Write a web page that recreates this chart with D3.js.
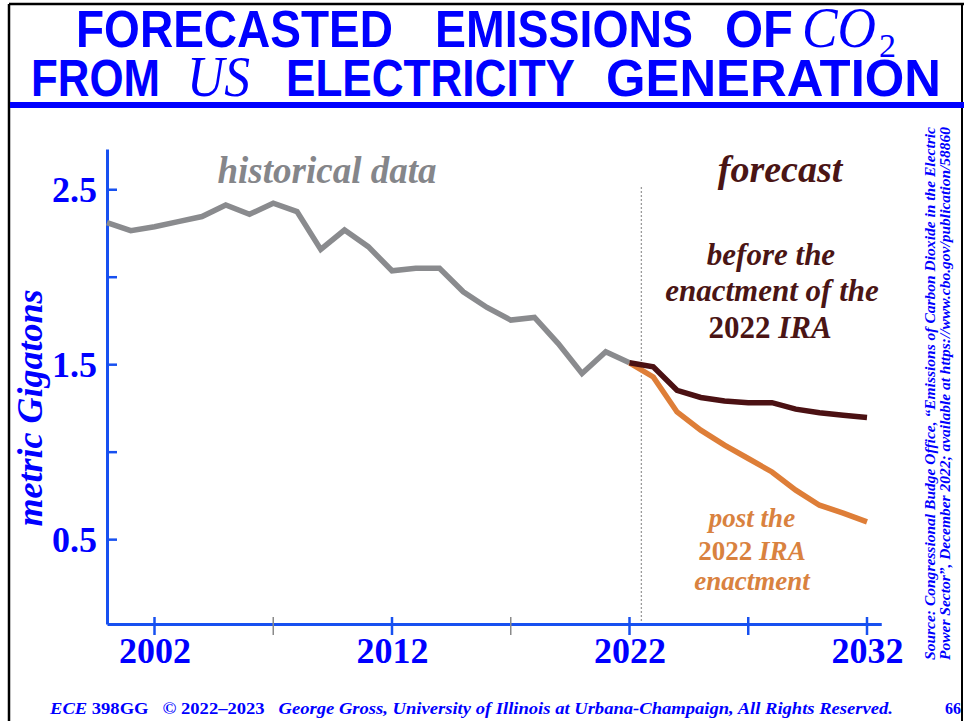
<!DOCTYPE html>
<html>
<head>
<meta charset="utf-8">
<script src="https://cdn.jsdelivr.net/npm/d3@7/dist/d3.min.js"></script>
<style>
  html, body { margin: 0; padding: 0; background: #fff; }
  svg { display: block; }
</style>
</head>
<body>
<svg id="chart" width="964" height="721"></svg>
<script>
// Historical emissions (metric gigatons CO2), 2000–2022
const histYears = [2000, 2001, 2002, 2003, 2004, 2005, 2006, 2007, 2008, 2009, 2010, 2011,
                   2012, 2013, 2014, 2015, 2016, 2017, 2018, 2019, 2020, 2021, 2022];
const histValues = [2.309, 2.263, 2.286, 2.315, 2.344, 2.410, 2.357, 2.420, 2.372, 2.156, 2.267, 2.172,
                    2.034, 2.048, 2.048, 1.914, 1.824, 1.752, 1.767, 1.618, 1.447, 1.571, 1.508];

// Forecasts, 2022–2032
const fcYears = [2022, 2023, 2024, 2025, 2026, 2027, 2028, 2029, 2030, 2031, 2032];
const beforeIRA = [1.508, 1.485, 1.351, 1.310, 1.290, 1.280, 1.280, 1.243, 1.222, 1.208, 1.195];
const postIRA   = [1.508, 1.427, 1.227, 1.123, 1.037, 0.961, 0.884, 0.780, 0.694, 0.649, 0.599];

// Axis ticks
const yTicks = [0.5, 1.0, 1.5, 2.0, 2.5];
const yTickLabels = ["0.5", "", "1.5", "", "2.5"];
const xLabelTicks = [2002, 2012, 2022, 2032];
const xMinorTicks = [2002, 2007, 2012, 2017, 2022, 2027, 2032];
const forecastStart = 2022.5;

const BLUE = "#0000ff";
const AXIS_BLUE = "#1750f0";
const GRAY = "#8a8b8e";
const DARK = "#4b1113";
const ORANGE = "#de7e38";
const SERIF = "'Liberation Serif', 'Times New Roman', serif";
const SANS = "'Liberation Sans', Arial, sans-serif";

const svg = d3.select("#chart");

// Slide frame
svg.append("line").attr("x1", 9).attr("x2", 9).attr("y1", 4).attr("y2", 721)
  .attr("stroke", "#000").attr("stroke-width", 2.5);
svg.append("line").attr("x1", 9).attr("x2", 964).attr("y1", 4).attr("y2", 4)
  .attr("stroke", "#000").attr("stroke-width", 2.5);
svg.append("line").attr("x1", 962).attr("x2", 962).attr("y1", 4).attr("y2", 721)
  .attr("stroke", "#000").attr("stroke-width", 2);
svg.append("rect").attr("x", 10).attr("y", 102).attr("width", 954).attr("height", 6).attr("fill", BLUE);

// Title, word by word
function word(y, x0, x1, txt, opts) {
  const t = svg.append("text")
    .attr("x", x0).attr("y", y)
    .attr("fill", BLUE)
    .attr("font-family", opts.serif ? SERIF : SANS)
    .attr("font-weight", opts.serif ? "normal" : "bold")
    .attr("font-style", opts.serif ? "italic" : "normal")
    .attr("font-size", opts.size)
    .attr("textLength", x1 - x0)
    .attr("lengthAdjust", "spacingAndGlyphs")
    .text(txt);
  return t;
}
word(47, 76, 393, "FORECASTED", {size: 51});
word(47, 435, 693, "EMISSIONS", {size: 51});
word(47, 725, 793, "OF", {size: 51});
word(47, 802, 876, "CO", {size: 56, serif: true});
svg.append("text").attr("x", 879).attr("y", 57).attr("fill", BLUE)
  .attr("font-family", SERIF).attr("font-size", 34).text("2");
word(96, 31, 160, "FROM", {size: 51});
word(96, 187, 250, "US", {size: 56, serif: true});
word(96, 286, 575, "ELECTRICITY", {size: 51});
word(96, 606, 941, "GENERATION", {size: 51});

// Scales
const x = d3.scaleLinear().domain([2000, 2032.6]).range([107, 107 + 32.6 * 23.75]);
const y = d3.scaleLinear().domain([0.015, 2.73]).range([624, 149]);

// Forecast divider
svg.append("line")
  .attr("x1", x(forecastStart)).attr("x2", x(forecastStart))
  .attr("y1", 187).attr("y2", y(0.015))
  .attr("stroke", "#9a9a9a").attr("stroke-width", 1.3).attr("stroke-dasharray", "2,2");

// Y axis
const yAxis = d3.axisLeft(y)
  .tickValues(yTicks)
  .tickSizeInner(-10).tickSizeOuter(0).tickPadding(10)
  .tickFormat((d, i) => yTickLabels[i]);
const gy = svg.append("g").attr("transform", `translate(${x(2000)},0)`).call(yAxis);
gy.select(".domain").attr("stroke", AXIS_BLUE).attr("stroke-width", 3);
gy.selectAll(".tick line").attr("stroke", AXIS_BLUE).attr("stroke-width", 2.5);
gy.selectAll(".tick text")
  .attr("fill", BLUE).attr("font-family", SERIF).attr("font-weight", "bold")
  .attr("font-size", 36).attr("dy", "0.34em");

// X axis
const xAxis = d3.axisBottom(x).tickValues(xLabelTicks).tickSize(0).tickFormat(d3.format("d"));
const gx = svg.append("g").attr("transform", `translate(0,${y(0.015)})`).call(xAxis);
gx.select(".domain").attr("stroke", AXIS_BLUE).attr("stroke-width", 3);
gx.selectAll(".tick text")
  .attr("fill", BLUE).attr("font-family", SERIF).attr("font-weight", "bold")
  .attr("font-size", 36).attr("y", 39).attr("dy", 0);
gx.selectAll(".minor").data(xMinorTicks).join("line")
  .attr("class", "minor")
  .attr("x1", d => x(d)).attr("x2", d => x(d))
  .attr("y1", -7).attr("y2", 11)
  .attr("stroke", d => (d === 2007 || d === 2017) ? "#8a8a8a" : AXIS_BLUE)
  .attr("stroke-width", d => (d === 2007 || d === 2017) ? 1.5 : 2.5);

// Series
const line = d3.line().x(d => x(d[0])).y(d => y(d[1]));
svg.append("path").datum(histYears.map((yr, i) => [yr, histValues[i]]))
  .attr("d", line).attr("fill", "none").attr("stroke", GRAY).attr("stroke-width", 5.5);
svg.append("path").datum(fcYears.map((yr, i) => [yr, postIRA[i]]))
  .attr("d", line).attr("fill", "none").attr("stroke", ORANGE).attr("stroke-width", 5.5);
svg.append("path").datum(fcYears.map((yr, i) => [yr, beforeIRA[i]]))
  .attr("d", line).attr("fill", "none").attr("stroke", DARK).attr("stroke-width", 5.5);

// Annotations
function label(xc, yb, parts, color, size) {
  const t = svg.append("text").attr("x", xc).attr("y", yb).attr("text-anchor", "middle")
    .attr("fill", color).attr("font-family", SERIF).attr("font-weight", "bold").attr("font-size", size);
  parts.forEach(p => t.append("tspan").attr("font-style", p[1] ? "italic" : "normal").text(p[0]));
  return t;
}
label(327, 183, [["historical data", true]], "#85868a", 37);
label(780, 182, [["forecast", true]], "#4a1515", 38);
label(771, 265, [["before the", true]], "#4a1515", 31);
label(772, 301, [["enactment of the", true]], "#4a1515", 31);
label(770, 338, [["2022 ", false], ["IRA", true]], "#4a1515", 31);
label(752, 527, [["post the", true]], "#d9823f", 27);
label(752, 560, [["2022 ", false], ["IRA", true]], "#d9823f", 27);
label(752, 590, [["enactment", true]], "#d9823f", 27);

// Y axis title
svg.append("text")
  .attr("transform", "translate(42,408) rotate(-90)")
  .attr("text-anchor", "middle")
  .attr("fill", BLUE).attr("font-family", SERIF).attr("font-weight", "bold")
  .attr("font-style", "italic").attr("font-size", 36)
  .text("metric Gigatons");

// Source note
const src = [
  "Source: Congressional Budge Office, \u201cEmissions of Carbon Dioxide in the Electric",
  "Power Sector\u201d, December 2022; available at https://www.cbo.gov/publication/58860"
];
[935, 950].forEach((bx, i) => {
  svg.append("text")
    .attr("transform", `translate(${bx},660) rotate(-90)`)
    .attr("fill", BLUE).attr("font-family", SERIF).attr("font-weight", "bold")
    .attr("font-style", "italic").attr("font-size", 15.5)
    .attr("textLength", 533).attr("lengthAdjust", "spacingAndGlyphs")
    .text(src[i]);
});

// Footer
const foot = svg.append("text").attr("x", 50).attr("y", 714)
  .attr("fill", BLUE).attr("font-family", SERIF).attr("font-weight", "bold").attr("font-size", 16)
  .attr("textLength", 843).attr("lengthAdjust", "spacingAndGlyphs");
foot.append("tspan").attr("font-style", "italic").text("ECE");
foot.append("tspan").text(" 398GG\u00a0\u00a0 \u00a9 2022\u20132023\u00a0\u00a0 ");
foot.append("tspan").attr("font-style", "italic")
  .text("George Gross, University of Illinois at Urbana-Champaign, All Rights Reserved.");
svg.append("text").attr("x", 945).attr("y", 714)
  .attr("fill", BLUE).attr("font-family", SERIF).attr("font-weight", "bold").attr("font-size", 16)
  .text("66");
</script>
</body>
</html>
